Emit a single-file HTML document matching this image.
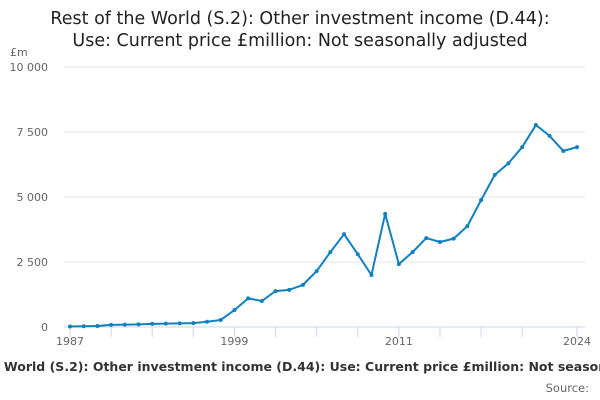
<!DOCTYPE html>
<html><head><meta charset="utf-8"><style>
html,body{margin:0;padding:0;background:#fff;width:600px;height:400px;overflow:hidden;font-family:"DejaVu Sans","Liberation Sans",sans-serif;}
</style></head><body>
<svg id="c" width="600" height="400" xmlns="http://www.w3.org/2000/svg">
<text x="300" y="24" text-anchor="middle" font-size="17.5" fill="#222">Rest of the World (S.2): Other investment income (D.44):</text>
<text x="300" y="46" text-anchor="middle" font-size="17.5" fill="#222">Use: Current price £million: Not seasonally adjusted</text>
<text x="10" y="56" font-size="11" fill="#666">£m</text>
<g id="grid"></g><g id="xaxis"></g><g id="series"></g>
<text x="310" y="371" text-anchor="middle" font-size="12.5" font-weight="bold" fill="#333">Rest of the World (S.2): Other investment income (D.44): Use: Current price £million: Not seasonally adjusted</text>
<text x="589" y="392" text-anchor="end" font-size="11.5" fill="#666">Source:</text>
</svg>
<script>
const years=[];for(let y=1987;y<=2024;y++)years.push(y);
const values=[20,30,40,80,90,100,120,130,140,150,200,270,650,1100,1000,1380,1430,1620,2150,2880,3570,2800,2000,4350,2420,2880,3420,3270,3400,3880,4880,5850,6300,6920,7770,7350,6770,6920];
const yTicks=[0,2500,5000,7500,10000];
const yTickLabels=["0","2 500","5 000","7 500","10 000"];
const xTicks=[1987,1990,1993,1996,1999,2002,2005,2008,2011,2014,2017,2020,2024];
const xLabels=[1987,1999,2011,2024];
const NS="http://www.w3.org/2000/svg";
const X0=70,X1=577,Y0=327,Y1=67;
const xs=y=>X0+(y-1987)*(X1-X0)/(2024-1987);
const ys=v=>Y0-v*(Y0-Y1)/10000;
function mk(t,a,p){const e=document.createElementNS(NS,t);for(const k in a)e.setAttribute(k,a[k]);p.appendChild(e);return e;}
const g=document.getElementById('grid');
yTicks.forEach((v,i)=>{
 const l=mk('line',{x1:64,x2:585,y1:ys(v),y2:ys(v),stroke:v===0?'#ccd6eb':'#e6e6e6','stroke-width':1},g);
 
 
 const t=mk('text',{x:48,y:ys(v)+4,'text-anchor':'end','font-size':11,fill:'#666'},g);t.textContent=yTickLabels[i];
 
 
});
const xa=document.getElementById('xaxis');
xTicks.forEach(y=>{const l=mk('line',{x1:xs(y),x2:xs(y),y1:Y0,y2:Y0+10,stroke:'#ccd6eb'},xa);
 
 });
xLabels.forEach(y=>{const t=mk('text',{x:xs(y),y:345,'text-anchor':'middle','font-size':11,fill:'#666'},xa);t.textContent=y;
 
 });
const s=document.getElementById('series');
const p=mk('polyline',{points:years.map((y,i)=>xs(y)+','+ys(values[i])).join(' '),fill:'none',stroke:'#0f80c0','stroke-width':2,'stroke-linejoin':'round'},s);


years.forEach((y,i)=>{const c=mk('circle',{cx:xs(y),cy:ys(values[i]),r:2,fill:'#0f80c0'},s);
 
 });
</script>
</body></html>
